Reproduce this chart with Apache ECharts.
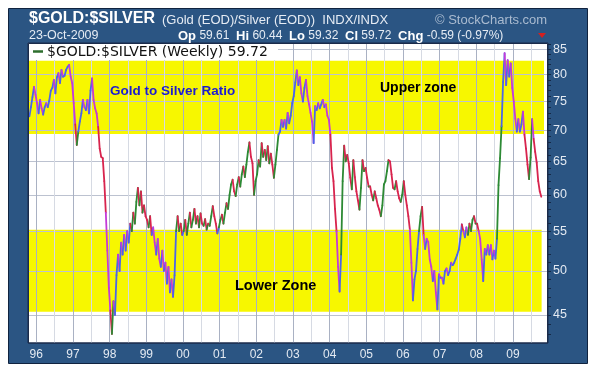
<!DOCTYPE html>
<html>
<head>
<meta charset="utf-8">
<script src="https://cdn.jsdelivr.net/npm/echarts@6/dist/echarts.min.js"></script>
<style>
html,body{margin:0;padding:0;background:#fff;}
#c{width:597px;height:380px;}
</style>
</head>
<body>
<div id="c"></div>
<script>
// Semi-monthly readings of $GOLD:$SILVER ratio, per year.
const v1995 = [72.4, 74.0, 75.8, 77.7, 76.2];
const v1996 = [74.7, 72.9, 75.3, 73.8, 72.7, 74.0, 74.7, 74.0, 75.2, 77.0, 77.5, 79.0, 76.5, 79.5, 80.3, 78.4, 80.9, 79.6, 79.8, 80.9, 81.5, 81.9, 79.6, 78.4];
const v1997 = [74.7, 71.0, 67.6, 69.8, 71.5, 72.9, 75.3, 74.0, 73.5, 75.3, 72.9, 77.0, 79.3, 75.3, 73.8, 72.9, 70.6, 67.0, 65.7, 65.5, 62.0, 57.5, 52.5, 48.0];
const v1998 = [45.5, 43.0, 46.5, 45.0, 49.5, 52.0, 50.0, 53.5, 52.0, 54.5, 52.5, 55.0, 53.5, 56.0, 55.0, 57.5, 56.0, 59.0, 61.0, 58.5, 60.5, 57.5, 58.5, 57.0];
const v1999 = [56.5, 55.5, 57.0, 54.5, 55.5, 53.5, 52.0, 54.0, 51.5, 50.5, 52.5, 50.0, 51.0, 48.5, 50.5, 47.5, 49.0, 47.0, 49.5, 55.0, 57.0, 55.0, 56.0, 54.5];
const v2000 = [55.0, 56.5, 54.5, 56.0, 57.5, 55.5, 56.5, 58.0, 56.0, 57.0, 55.5, 57.4, 56.0, 55.7, 56.6, 55.2, 56.0, 55.7, 57.0, 58.4, 57.0, 56.0, 54.7, 55.5];
const v2001 = [56.5, 57.2, 56.0, 57.5, 58.8, 58.0, 60.0, 61.5, 62.2, 60.5, 59.8, 61.5, 62.6, 61.2, 63.0, 64.2, 62.6, 64.5, 66.5, 68.0, 65.7, 64.7, 60.0, 62.0];
const v2002 = [63.0, 65.2, 64.2, 67.9, 65.7, 66.8, 65.2, 67.4, 64.7, 66.2, 64.5, 62.5, 64.5, 66.8, 69.3, 69.8, 71.8, 70.6, 71.8, 70.3, 73.0, 71.2, 72.5, 74.7];
const v2003 = [76.0, 78.5, 80.8, 78.0, 79.5, 76.5, 75.0, 77.5, 79.0, 76.0, 74.5, 73.0, 71.5, 67.9, 74.2, 73.5, 74.7, 73.8, 74.5, 75.3, 74.0, 74.5, 72.5, 71.8];
const v2004 = [69.3, 64.0, 62.0, 58.0, 55.0, 50.5, 47.6, 52.0, 62.0, 67.5, 65.0, 66.0, 64.7, 62.5, 60.8, 65.2, 62.6, 60.5, 59.2, 57.9, 61.0, 65.2, 63.5, 64.0];
const v2005 = [62.5, 61.2, 61.2, 60.0, 59.2, 60.5, 59.5, 58.5, 57.9, 57.0, 58.5, 61.5, 62.0, 63.5, 65.2, 65.0, 63.0, 61.0, 60.8, 62.0, 60.5, 59.5, 59.0, 60.0];
const v2006 = [62.0, 60.0, 58.5, 57.0, 55.2, 51.0, 46.6, 49.0, 50.0, 52.7, 55.0, 57.0, 58.3, 54.5, 52.7, 54.0, 53.6, 51.4, 50.5, 48.8, 50.0, 47.5, 45.6, 49.6];
const v2007 = [49.2, 49.2, 48.5, 50.0, 50.3, 49.5, 50.0, 51.0, 50.7, 51.0, 51.5, 52.0, 52.6, 54.0, 55.9, 55.0, 54.2, 55.5, 54.5, 56.0, 55.0, 56.5, 57.0, 56.0];
const v2008 = [56.0, 55.0, 54.0, 51.4, 48.8, 52.7, 52.0, 53.2, 52.0, 53.2, 51.4, 52.5, 51.5, 54.0, 61.4, 65.5, 70.7, 78.6, 84.2, 78.0, 82.8, 79.6, 82.2, 77.5];
const v2009 = [75.0, 72.0, 69.8, 71.9, 69.8, 71.0, 73.2, 69.3, 67.0, 64.5, 62.3, 65.6, 71.9, 68.6, 66.5, 64.8, 62.0, 60.5, 59.72];

const yearBlocks = [
  [1995, 19, v1995], [1996, 0, v1996], [1997, 0, v1997], [1998, 0, v1998],
  [1999, 0, v1999], [2000, 0, v2000], [2001, 0, v2001], [2002, 0, v2002],
  [2003, 0, v2003], [2004, 0, v2004], [2005, 0, v2005], [2006, 0, v2006],
  [2007, 0, v2007], [2008, 0, v2008], [2009, 0, v2009]
];

const yearLabels = [1996,1997,1998,1999,2000,2001,2002,2003,2004,2005,2006,2007,2008,2009];
const midYears = [1996.5,1997.5,1998.5,1999.5,2000.5,2001.5,2002.5,2003.5,2004.5,2005.5,2006.5,2007.5,2008.5,2009.5];
const yTicks = [45, 50, 55, 60, 65, 70, 75, 80, 85];
const yMinor = [43,44,45,46,47,48,49,50,51,52,53,54,55,56,57,58,59,60,61,62,63,64,65,66,67,68,69,70,71,72,73,74,75,76,77,78,79,80,81,82,83,84,85,86];

// zones: [xStart, top, xEnd, bottom]
const upperZone = [1995.774, 82.7, 2009.845, 69.4];
const lowerZone = [1995.774, 55.2, 2009.78, 45.35];

const X_MIN = 1995.774, X_MAX = 2009.954;
const Y_MIN = 42.08, Y_MAX = 86.29;

const points = [];
yearBlocks.forEach(([yr, off, vals]) => {
  vals.forEach((v, i) => points.push([yr + (off + i + 0.5) / 24, v]));
});
const segs = [];
for (let i = 1; i < points.length; i++) {
  segs.push([points[i-1][0], points[i-1][1], points[i][0], points[i][1]]);
}

function inZone(v) {
  return (v <= upperZone[1] && v >= upperZone[3]) || (v <= lowerZone[1] && v >= lowerZone[3]);
}

const chart = echarts.init(document.getElementById('c'), null, {renderer: 'canvas'});
const labelColor = '#e4eaf2';
const option = {
  animation: false,
  backgroundColor: '#ffffff',
  grid: {left: 28, top: 43, width: 520, height: 300, show: true, backgroundColor: '#ffffff', borderColor: '#1a2b4a', borderWidth: 1, containLabel: false},
  xAxis: [{
    type: 'value', min: X_MIN, max: X_MAX, z: 2,
    axisLine: {show: false},
    axisTick: {show: false, customValues: midYears},
    axisLabel: {customValues: yearLabels, color: labelColor, fontSize: 12, fontFamily: 'Arial, "Liberation Sans", sans-serif', margin: 6,
      formatter: v => String(Math.round(v) % 100).padStart(2, '0')},
    splitLine: {show: true, lineStyle: {color: '#d6dae3', width: 1}}
  }, {
    type: 'value', min: X_MIN, max: X_MAX, z: 2, position: 'bottom',
    axisLine: {show: false},
    axisTick: {show: false, customValues: yearLabels},
    axisLabel: {show: false},
    splitLine: {show: true, lineStyle: {color: '#a9b1c3', width: 1}}
  }],
  yAxis: [{
    type: 'log', logBase: 10, min: Y_MIN, max: Y_MAX, position: 'right', z: 2,
    axisLine: {show: false},
    axisTick: {show: false, customValues: yTicks},
    axisLabel: {customValues: yTicks, color: labelColor, fontSize: 12.5, fontFamily: 'Arial, "Liberation Sans", sans-serif', margin: 5},
    splitLine: {show: true, lineStyle: {color: '#bcc2d0', width: 1}}
  }, {
    type: 'log', logBase: 10, min: Y_MIN, max: Y_MAX, position: 'right', z: 2,
    axisLine: {show: false},
    axisTick: {show: true, length: 3, customValues: yMinor, lineStyle: {color: '#152947'}},
    axisLabel: {show: false},
    splitLine: {show: false}
  }],
  series: [{
    type: 'custom', name: 'zones', z: 1, silent: true,
    data: [upperZone, lowerZone],
    encode: {x: [0, 2], y: [1, 3]},
    renderItem: (params, api) => {
      const p0 = api.coord([api.value(0), api.value(1)]);
      const p1 = api.coord([api.value(2), api.value(3)]);
      return {type: 'rect', shape: {x: p0[0], y: p0[1], width: p1[0] - p0[0], height: p1[1] - p0[1]}, style: {fill: '#f7f700'}};
    }
  }, {
    type: 'custom', name: '$GOLD:$SILVER', z: 3, silent: true,
    data: segs,
    encode: {x: [0, 2], y: [1, 3]},
    renderItem: (params, api) => {
      const y0 = api.value(1), y1 = api.value(3);
      const p0 = api.coord([api.value(0), y0]);
      const p1 = api.coord([api.value(2), y1]);
      const up = y1 >= y0;
      const z = inZone((y0 + y1) / 2);
      const color = up ? (z ? '#4a66e8' : '#2d8a35') : (z ? '#c43ad8' : '#d8244e');
      return {type: 'line', shape: {x1: p0[0], y1: p0[1], x2: p1[0], y2: p1[1]}, style: {stroke: color, lineWidth: 1.8, lineCap: 'round'}};
    }
  }],
  graphic: {elements: [
    {type: 'rect', z: -10, shape: {x: 8.5, y: 8.5, width: 579, height: 355}, style: {fill: '#2b5583', stroke: '#10233f', lineWidth: 1}},
    {type: 'text', z: 10, x: 29, y: 19, style: {text: '$GOLD:$SILVER', fill: '#ffffff', font: 'bold 16px "Liberation Sans", Arial, sans-serif', verticalAlign: 'middle'}},
    {type: 'text', z: 10, x: 162, y: 20, style: {text: '(Gold (EOD)/Silver (EOD))  INDX/INDX', fill: '#e6ecf4', font: '13px "Liberation Sans", Arial, sans-serif', verticalAlign: 'middle'}},
    {type: 'text', z: 10, x: 435, y: 20, style: {text: '\u00a9 StockCharts.com', fill: '#aabbd0', font: '13px "Liberation Sans", Arial, sans-serif', verticalAlign: 'middle'}},
    {type: 'text', z: 10, x: 29, y: 36, style: {text: '23-Oct-2009', fill: '#e6ecf4', font: '12.5px "Liberation Sans", Arial, sans-serif', verticalAlign: 'middle'}},
    {type: 'text', z: 10, x: 178, y: 36, style: {
      text: '{b|Op} 59.61  {b|Hi} 60.44  {b|Lo} 59.32  {b|Cl} 59.72  {b|Chg} -0.59 (-0.97%)',
      fill: '#e6ecf4', font: '12px "Liberation Sans", Arial, sans-serif', verticalAlign: 'middle',
      rich: {b: {fill: '#ffffff', font: 'bold 13px "Liberation Sans", Arial, sans-serif'}}}},
    {type: 'polygon', z: 10, shape: {points: [[538, 33], [546, 33], [542, 38]]}, style: {fill: '#d42020'}},
    {type: 'rect', z: 10, shape: {x: 29, y: 44, width: 249, height: 16}, style: {fill: '#ffffff'}},
    {type: 'line', z: 11, shape: {x1: 33, y1: 51.5, x2: 43, y2: 51.5}, style: {stroke: '#2d6e2d', lineWidth: 2.5}},
    {type: 'text', z: 11, x: 47, y: 52, style: {text: '$GOLD:$SILVER (Weekly) 59.72', fill: '#111111', font: '14px "DejaVu Sans", Verdana, sans-serif', verticalAlign: 'middle'}},
    {type: 'text', z: 11, x: 110, y: 91, style: {text: 'Gold to Silver Ratio', fill: '#1c1cd0', font: 'bold 13.5px "Liberation Sans", Arial, sans-serif', verticalAlign: 'middle'}},
    {type: 'text', z: 11, x: 380, y: 88, style: {text: 'Upper zone', fill: '#000000', font: 'bold 14px "Liberation Sans", Arial, sans-serif', verticalAlign: 'middle'}},
    {type: 'text', z: 11, x: 235, y: 286, style: {text: 'Lower Zone', fill: '#000000', font: 'bold 14.5px "Liberation Sans", Arial, sans-serif', verticalAlign: 'middle'}},
    {type: 'rect', z: 20, shape: {x: 28.5, y: 43.5, width: 519, height: 299.5}, style: {fill: null, stroke: '#1a2b4a', lineWidth: 1}}
  ]}
};
chart.setOption(option);
</script>
</body>
</html>
